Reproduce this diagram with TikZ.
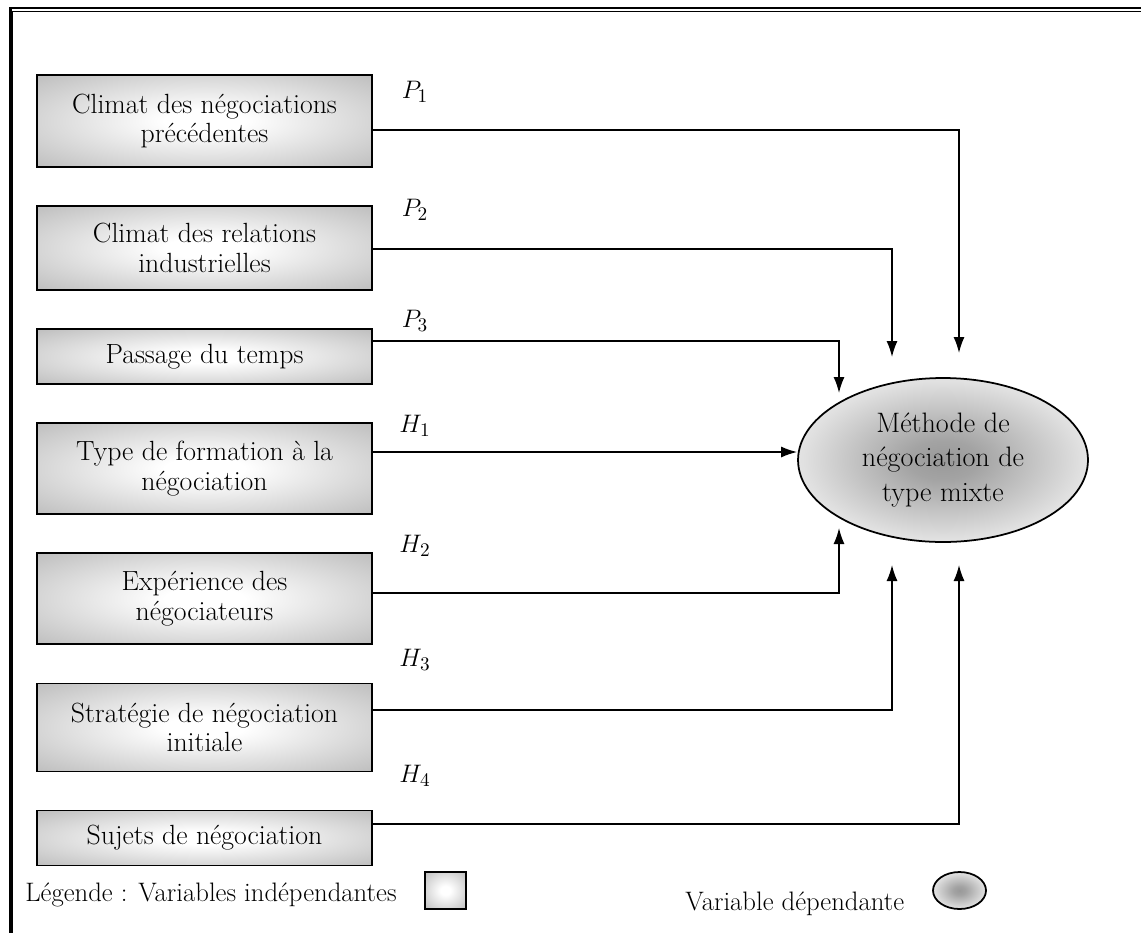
\documentclass[tikz,border=0pt]{standalone}
\usepackage{tikz}
\usetikzlibrary{shapes,arrows.meta,positioning,calc}
\pgfdeclareradialshading{boxglow}{\pgfpoint{0bp}{0bp}}{color(0bp)=(white); color(6bp)=(white); color(50bp)=(black!38)}
\pgfdeclareradialshading{ovalglow}{\pgfpoint{0bp}{0bp}}{color(0bp)=(black!40); color(6bp)=(black!36); color(24bp)=(black!12); color(38bp)=(white); color(50bp)=(white)}
\tikzset{
    var/.style = {
        rectangle, draw, shade, shading=boxglow,
        minimum width=6.7cm, align=center, line width=0.9pt,
        font=\fontsize{15.8}{16.8}\selectfont
    },
    link/.style = {draw, -{Latex[length=0.32cm,width=0.22cm]}, line width=0.85pt},
    hyp/.style  = {font=\fontsize{15.2}{16}\selectfont},
    oval/.style = {draw, ellipse, shade, shading=ovalglow, line width=1pt, inner sep=0pt}
}

\begin{document}
\begin{tikzpicture}[x=0.02cm, y=-0.02cm, node distance=0.75cm]
  \useasboundingbox (0,0) rectangle (1141,933);
  % frame
  \draw [line width=1.4pt] (1141,8) -- (10.5,8) -- (10.5,933);
  \draw [line width=0.85pt] (1141,11.5) -- (12.5,11.5) -- (12.5,933);

  \node [var, minimum height=1.84cm] (clim) at (204.5,121)
        {Climat des négociations\\précédentes};
  \node [var, minimum height=1.68cm, below=of clim] (rel)
        {Climat des relations\\industrielles};
  \node [var, minimum height=1.1cm, below=of rel] (temps) {Passage du temps};
  \node [var, minimum height=1.82cm, below=of temps] (form)
        {Type de formation à la\\négociation};
  \node [var, minimum height=1.82cm, below=of form] (exper)
        {Expérience des\\négociateurs};
  \node [var, minimum height=1.76cm, below=of exper] (strat)
        {Stratégie de négociation\\initiale};
  \node [var, minimum height=1.1cm, below=of strat] (suj) {Sujets de négociation};

  \node [oval, minimum width=5.8cm, minimum height=3.28cm, align=center,
         font=\fontsize{16}{19.6}\selectfont] (meth) at (943,460)
        {Méthode de\\négociation de\\type mixte};

  \coordinate (p1end) at (959,353);
  \coordinate (p2end) at (892,357);
  \coordinate (p3end) at (839,393);
  \coordinate (h2end) at (839,528);
  \coordinate (h3end) at (892,565);
  \coordinate (h4end) at (959,565);

  \path [link] (clim.east |- 0,130) -| (p1end);
  \path [link] (rel.east |- 0,249) -| (p2end);
  \path [link] (temps.east |- 0,341) -| (p3end);
  \path [link] (form.east |- 0,452) -- (meth.west |- 0,452);
  \path [link] (exper.east |- 0,593) -| (h2end);
  \path [link] (strat.east |- 0,710) -| (h3end);
  \path [link] (suj.east |- 0,824) -| (h4end);

  \node [hyp] (lp1) at (415,92) {$P_1$};
  \node [hyp] (lp2) at (415,210) {$P_2$};
  \node [hyp] (lp3) at (415,321) {$P_3$};
  \node [hyp] (lh1) at (415,426) {$H_1$};
  \node [hyp] (lh2) at (415,546) {$H_2$};
  \node [hyp] (lh3) at (415,660) {$H_3$};
  \node [hyp] (lh4) at (415,776) {$H_4$};

  % legend
  \node [hyp, anchor=base west, inner sep=0pt] (legind) at (25,901)
        {Légende : Variables indépendantes};
  \node [draw, shade, shading=boxglow, line width=0.9pt, inner sep=0pt,
         minimum width=0.82cm, minimum height=0.74cm] (legbox) at (445.5,890.5) {};
  \node [hyp, anchor=base west, inner sep=0pt] (legdep) at (685,910)
        {Variable dépendante};
  \node [oval, minimum width=1.06cm, minimum height=0.74cm] (legoval) at (959.5,890.5) {};
\end{tikzpicture}
\end{document}
